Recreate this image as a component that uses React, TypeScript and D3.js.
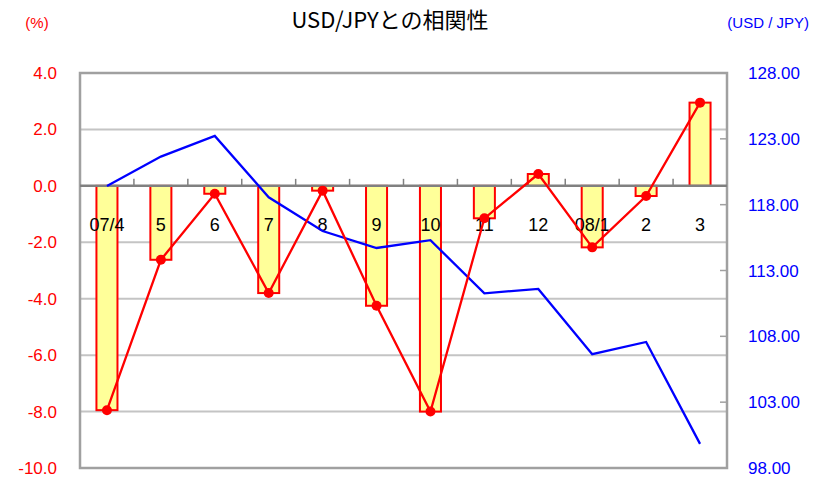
import React from 'react';
import * as d3 from 'd3';

const categories = ['07/4', '5', '6', '7', '8', '9', '10', '11', '12', '08/1', '2', '3'];
// correlation (%), left axis
const correlation = [-7.95, -2.62, -0.28, -3.8, -0.17, -4.25, -8.0, -1.15, 0.42, -2.18, -0.36, 2.95];
// USD/JPY rate, right axis
const usdJpy = [119.42, 121.65, 123.22, 118.56, 116.0, 114.71, 115.3, 111.27, 111.6, 106.64, 107.57, 99.83];
const leftTicks = [4, 2, 0, -2, -4, -6, -8, -10];
const rightTicks = [128, 123, 118, 113, 108, 103, 98];

const W = 814;
const H = 478;
const plot = { left: 80, right: 727, top: 73, bottom: 468 };
const numFont = '"Liberation Sans", Arial, sans-serif';

function App() {
  const x = d3.scaleBand<string>().domain(categories).range([plot.left, plot.right]).padding(0);
  const bw = x.bandwidth();
  const cx = (c: string) => (x(c) as number) + bw / 2;
  const yL = d3.scaleLinear().domain([-10, 4]).range([plot.bottom, plot.top]);
  const yR = d3.scaleLinear().domain([98, 128]).range([plot.bottom, plot.top]);

  const barW = bw * 0.39;

  const redLine = d3.line<number>()
    .x((d, i) => cx(categories[i]))
    .y((d) => yL(d));
  const blueLine = d3.line<number>()
    .x((d, i) => cx(categories[i]))
    .y((d) => yR(d));

  return (
    <div style={{ position: 'absolute', left: 0, top: 0 }}>
      <svg width={W} height={H} style={{ display: 'block', background: '#fff' }}>
        {/* title + axis captions */}
        <text x={390} y={28} textAnchor="middle" fontSize={22}
          fontFamily={'"Noto Sans CJK JP", sans-serif'} fill="#000">USD/JPYとの相関性</text>
        <text x={37} y={28} textAnchor="middle" fontSize={15} fontFamily={numFont} fill="#ff0000">(%)</text>
        <text x={809} y={28} textAnchor="end" fontSize={15} fontFamily={numFont} fill="#0000ff">(USD / JPY)</text>

        {/* gridlines */}
        {leftTicks.filter(t => t !== 0 && t !== 4 && t !== -10).map(t => (
          <line key={'g' + t} x1={plot.left} x2={plot.right} y1={yL(t)} y2={yL(t)}
            stroke="#c4c4c4" strokeWidth={2} />
        ))}

        {/* right axis inner ticks */}
        {rightTicks.map(t => (
          <line key={'rt' + t} x1={plot.right - 7} x2={plot.right} y1={yR(t)} y2={yR(t)}
            stroke="#a0a0a0" strokeWidth={1.5} />
        ))}

        {/* plot border */}
        <rect x={plot.left} y={plot.top} width={plot.right - plot.left} height={plot.bottom - plot.top}
          fill="none" stroke="#a0a0a0" strokeWidth={2.5} />

        {/* bars */}
        {correlation.map((v, i) => {
          const c = categories[i];
          const y0 = yL(0);
          const y1 = yL(v);
          return (
            <rect key={'b' + c} x={cx(c) - barW / 2} y={Math.min(y0, y1)} width={barW}
              height={Math.abs(y1 - y0)} fill="#ffff99" stroke="#ff0000" strokeWidth={2} />
          );
        })}

        {/* zero line with category ticks */}
        <line x1={plot.left} x2={plot.right} y1={yL(0)} y2={yL(0)} stroke="#808080" strokeWidth={2.5} />
        {categories.slice(1).map(c => (
          <line key={'t' + c} x1={x(c) as number} x2={x(c) as number} y1={yL(0) - 7} y2={yL(0)}
            stroke="#808080" strokeWidth={1.5} />
        ))}

        {/* category labels */}
        {categories.map(c => (
          <text key={'l' + c} x={cx(c)} y={yL(0) + 45} textAnchor="middle" fontSize={18}
            fontFamily={numFont} fill="#000">{c}</text>
        ))}

        {/* USD/JPY line */}
        <path d={blueLine(usdJpy) as string} fill="none" stroke="#0000ff" strokeWidth={2.3} />

        {/* correlation line */}
        <path d={redLine(correlation) as string} fill="none" stroke="#ff0000" strokeWidth={2.3} />
        {correlation.map((v, i) => (
          <circle key={'p' + i} cx={cx(categories[i])} cy={yL(v)} r={5} fill="#ff0000" />
        ))}

        {/* left axis labels */}
        {leftTicks.map(t => (
          <text key={'yl' + t} x={57} y={yL(t) + 6} textAnchor="end" fontSize={17}
            fontFamily={numFont} fill="#ff0000">{t.toFixed(1)}</text>
        ))}

        {/* right axis labels */}
        {rightTicks.map(t => (
          <text key={'yr' + t} x={748} y={yR(t) + 6} textAnchor="start" fontSize={17}
            fontFamily={numFont} fill="#0000ff">{t.toFixed(2)}</text>
        ))}
      </svg>
    </div>
  );
}

export default App;
